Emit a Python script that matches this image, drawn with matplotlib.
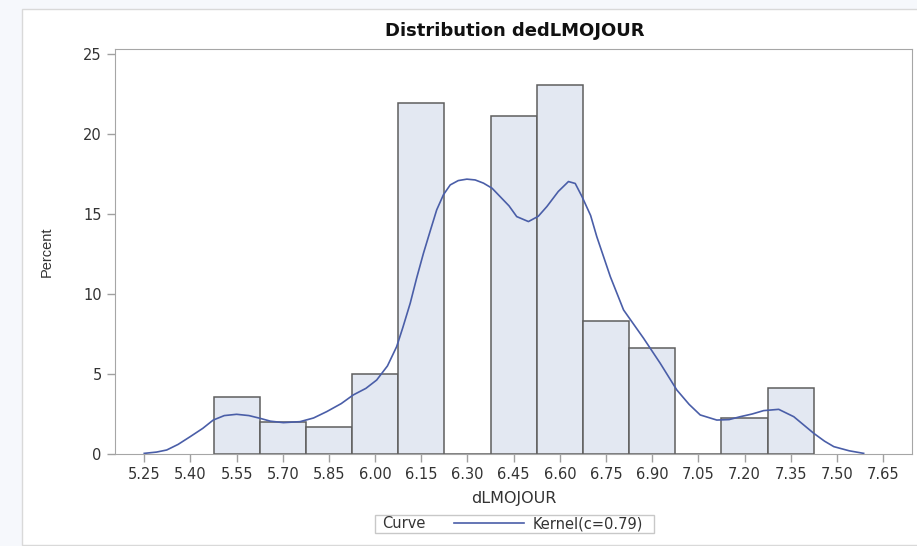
import matplotlib
matplotlib.use('Agg')
import matplotlib.pyplot as plt
from matplotlib.patches import Rectangle

plt.rcParams['font.family'] = ['DejaVu Sans']

# histogram midpoints and percent per bin
mids = [5.55, 5.70, 5.85, 6.00, 6.15, 6.30, 6.45, 6.60, 6.75, 6.90, 7.05, 7.20, 7.35]
pct = [3.58, 1.98, 1.69, 4.98, 21.95, 0.0, 21.1, 23.08, 8.33, 6.64, 0.0, 2.25, 4.14]
bin_w = 0.15

# kernel density curve
kx = [5.25, 5.29, 5.323, 5.36, 5.399, 5.44, 5.474, 5.51, 5.55, 5.59, 5.626, 5.66,
      5.702, 5.756, 5.80, 5.843, 5.89, 5.929, 5.97, 6.005, 6.04, 6.07, 6.09, 6.114,
      6.135, 6.157, 6.18, 6.200, 6.222, 6.244, 6.27, 6.298, 6.325, 6.352, 6.38,
      6.406, 6.435, 6.460, 6.498, 6.53, 6.558, 6.595, 6.628, 6.65, 6.672, 6.70,
      6.72, 6.764, 6.807, 6.84, 6.872, 6.926, 6.98, 7.02, 7.056, 7.11, 7.15, 7.186,
      7.225, 7.262, 7.311, 7.36, 7.39, 7.425, 7.46, 7.49, 7.54, 7.587]
ky = [0.04, 0.12, 0.25, 0.6, 1.08, 1.6, 2.12, 2.4, 2.48, 2.4, 2.23, 2.05,
      1.96, 2.02, 2.25, 2.65, 3.15, 3.69, 4.1, 4.62, 5.5, 6.71, 7.9, 9.42,
      11.0, 12.54, 14.0, 15.25, 16.2, 16.81, 17.08, 17.17, 17.12, 16.92, 16.6,
      16.08, 15.5, 14.83, 14.52, 14.85, 15.46, 16.4, 17.02, 16.9, 16.08, 14.9,
      13.58, 11.08, 9.0, 8.1, 7.23, 5.67, 4.0, 3.1, 2.44, 2.12, 2.15, 2.33,
      2.5, 2.71, 2.79, 2.33, 1.85, 1.29, 0.8, 0.46, 0.2, 0.04]

xticks = [5.25, 5.40, 5.55, 5.70, 5.85, 6.00, 6.15, 6.30, 6.45, 6.60, 6.75, 6.90,
          7.05, 7.20, 7.35, 7.50, 7.65]
yticks = [0, 5, 10, 15, 20, 25]

W, H = 917, 546
fig = plt.figure(figsize=(W / 100, H / 100), dpi=100)
fig.patch.set_facecolor('#f6f8fc')
fig.patches.append(Rectangle((22 / W, 1 / H), 1, 536 / H, transform=fig.transFigure,
                             facecolor='white', edgecolor='#d9d9d9', lw=1, zorder=-5))

ax = fig.add_axes([115 / W, 1 - 454 / H, 797 / W, 405 / H])
ax.bar(mids, pct, width=bin_w, color='#e3e8f2', edgecolor='#5e5e5e', linewidth=1.1, zorder=2)
kline, = ax.plot(kx, ky, color='#4a5ea8', lw=1.2, zorder=3)

ax.set_xlim(5.155, 7.744)
ax.set_ylim(0, 25.3)
ax.set_xticks(xticks)
ax.set_xticklabels(['%.2f' % t for t in xticks])
ax.set_yticks(yticks)
ax.tick_params(colors='#a0a0a0', labelcolor='#333333', labelsize=10.5, length=6, width=1)
for s in ax.spines.values():
    s.set_color('#a6a6a6')
ax.set_xlabel('dLMOJOUR', fontsize=11.5, color='#333333', labelpad=6)
ax.set_ylabel('Percent', fontsize=10.5, color='#333333', family='Liberation Sans')
ax.yaxis.set_label_coords((54 - 115) / 797, 0.5)
fig.text(515 / W, 1 - 31 / H, 'Distribution dedLMOJOUR', fontsize=13, fontweight='bold',
         ha='center', va='center', color='#111111')

# legend box
fig.patches.append(Rectangle((375 / W, 1 - 533 / H), 279 / W, 18 / H,
                             transform=fig.transFigure, facecolor='white',
                             edgecolor='#c8c8c8', lw=1))
fig.text(382 / W, 1 - 524 / H, 'Curve', fontsize=10.5, va='center', ha='left', color='#333333')
fig.legend([kline], ['Kernel(c=0.79)'], loc='center left', bbox_to_anchor=(454 / W, 1 - 524 / H),
           frameon=False, fontsize=10.5, handlelength=4.8, handletextpad=0.6,
           borderpad=0, borderaxespad=0, labelcolor='#333333')

fig.savefig('out.png', dpi=100)
